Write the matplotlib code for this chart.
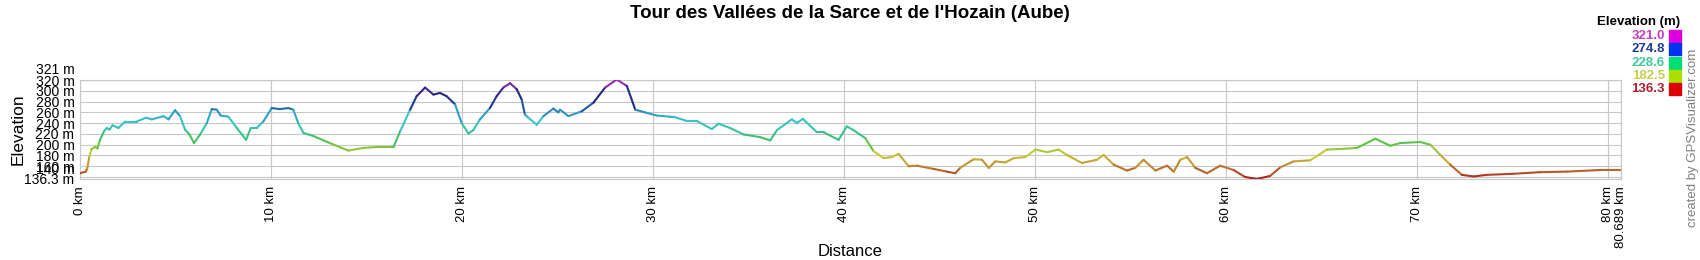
import numpy as np
import matplotlib
matplotlib.use("Agg")
import matplotlib.pyplot as plt
from matplotlib.collections import LineCollection
from matplotlib.colors import LinearSegmentedColormap, Normalize
from matplotlib.transforms import ScaledTranslation

# Profile: distance (km) and elevation (m)
dist_km = [0.0, 0.30, 0.38, 0.49, 0.61, 0.79, 0.91, 1.05, 1.26, 1.40, 1.54, 1.71, 2.01, 2.36,
           2.97, 3.46, 3.76, 4.37, 4.63, 4.98, 5.24, 5.50, 5.73, 5.97, 6.29, 6.64, 6.90, 7.16,
           7.37, 7.77, 8.21, 8.70, 8.94, 9.25, 9.60, 10.04, 10.47, 10.91, 11.17, 11.43, 11.70,
           12.22, 13.09, 14.05, 14.84, 15.71, 16.42, 16.77, 17.29, 17.63, 18.07, 18.51, 18.85,
           19.20, 19.64, 19.99, 20.34, 20.60, 20.95, 21.47, 21.82, 22.17, 22.52, 22.87, 23.13,
           23.30, 23.48, 23.92, 24.27, 24.79, 25.05, 25.14, 25.58, 26.28, 26.89, 27.50, 28.11,
           28.64, 29.08, 29.69, 30.21, 30.91, 31.08, 31.78, 32.30, 33.09, 33.44, 34.05, 34.75,
           35.62, 36.15, 36.50, 37.28, 37.54, 37.86, 38.59, 38.94, 39.73, 40.16, 40.51, 41.13,
           41.56, 42.09, 42.52, 42.87, 43.40, 43.83, 44.70, 45.40, 45.84, 46.10, 46.80, 47.24,
           47.59, 47.94, 48.46, 48.90, 49.51, 50.04, 50.65, 51.25, 51.68, 52.47, 53.26, 53.61,
           54.13, 54.83, 55.27, 55.70, 56.32, 56.93, 57.28, 57.63, 57.98, 58.41, 59.02, 59.71,
           60.41, 61.02, 61.64, 62.33, 62.86, 63.56, 64.43, 65.30, 66.00, 66.88, 67.84, 68.62,
           69.14, 70.19, 70.72, 71.24, 71.76, 72.37, 72.99, 73.68, 75.08, 76.48, 77.87, 79.62,
           80.689]
elev_m = [147, 150, 156, 178, 192, 196, 193, 209, 225, 231, 228, 236, 231, 243,
          243, 250, 247, 253, 247, 264, 253, 228, 219, 203, 219, 240, 266, 265,
          254, 252, 231, 209, 231, 231, 243, 268, 266, 268, 265, 240, 222,
          216, 203, 189, 194, 196, 196, 225, 265, 290, 306, 293, 296,
          290, 275, 240, 221, 227, 247, 268, 290, 306, 314, 303, 284,
          256, 250, 237, 253, 267, 260, 265, 253, 262, 278, 306, 321,
          309, 265, 259, 254, 252, 252, 244, 244, 229, 239, 231, 219,
          214, 208, 227, 247, 240, 248, 223, 223, 209, 234, 227, 212,
          188, 175, 177, 183, 160, 161, 155, 150, 147, 157, 173, 172,
          157, 169, 167, 175, 177, 191, 186, 191, 181, 166, 172, 181,
          163, 152, 157, 172, 152, 161, 150, 172, 177, 157, 147, 161,
          153, 140, 136.3, 142, 158, 169, 171, 191, 192, 194, 211, 198,
          203, 205, 200, 181, 163, 144, 141, 144, 146, 149, 150, 153,
          153]

ytick_vals = [136.3, 140, 160, 180, 200, 220, 240, 260, 280, 300, 320, 321]
ytick_labels = ["136.3 m", "140 m", "160 m", "180 m", "200 m", "220 m", "240 m",
                "260 m", "280 m", "300 m", "320 m", "321 m"]
xtick_vals = [0, 10, 20, 30, 40, 50, 60, 70, 80, 80.689]
xtick_labels = ["0 km", "10 km", "20 km", "30 km", "40 km", "50 km", "60 km",
                "70 km", "80 km", "80.689 km"]

legend_vals = ["321.0", "274.8", "228.6", "182.5", "136.3"]
legend_text_colors = ["#C63CC6", "#1F3C99", "#3CCB98", "#C4CF4E", "#AA1E2E"]
legend_box_colors = ["#DD00DD", "#0033EE", "#00DD77", "#AADD00", "#DD0000"]

# colour ramp used along the track
ramp = LinearSegmentedColormap.from_list("elev", [
    (0.00, "#A81C1C"), (0.07, "#B8562A"), (0.16, "#C29A30"), (0.25, "#CCCC3A"),
    (0.34, "#6CC43A"), (0.42, "#3CC070"), (0.50, "#36C4A8"), (0.59, "#38C4CC"),
    (0.68, "#2C8CC4"), (0.75, "#1E3C96"), (0.86, "#262480"), (0.93, "#6A2AA8"),
    (1.00, "#C030C8")])
norm = Normalize(vmin=136.3, vmax=321)

font = "Liberation Sans"
plt.rcParams['font.family'] = [font, 'DejaVu Sans']

fig = plt.figure(figsize=(17, 2.6), dpi=100)
ax = fig.add_axes([80 / 1700, 81 / 260, 1540.7 / 1700, 99.5 / 260])

x = np.array(dist_km)
y = np.array(elev_m)
pts = np.column_stack([x, y]).reshape(-1, 1, 2)
segs = np.concatenate([pts[:-1], pts[1:]], axis=1)
mids = (y[:-1] + y[1:]) / 2
lc = LineCollection(segs, colors=ramp(norm(mids)), linewidths=1.5,
                    capstyle='round', joinstyle='round', zorder=3)
ax.add_collection(lc)

ax.set_xlim(0, 80.689)
ax.set_ylim(136.3, 321)
ax.set_yticks(ytick_vals)
ax.set_yticklabels(ytick_labels, fontsize=10)
ax.set_xticks(xtick_vals)
ax.set_xticklabels(xtick_labels, fontsize=9.5, rotation=90, va='top')
ax.tick_params(length=0)
ax.tick_params(axis='y', pad=4)
ax.tick_params(axis='x', pad=5)
ax.grid(True, color='#C8C8C8', linewidth=0.8)
for s in ax.spines.values():
    s.set_color('#C8C8C8')
    s.set_linewidth(0.8)

# push crowded labels upward like the original
shift_up = {321: 11, 140: 9}
for lab, val in zip(ax.get_yticklabels(), ytick_vals):
    if val in shift_up:
        lab.set_transform(lab.get_transform()
                          + ScaledTranslation(0, shift_up[val] / 100, fig.dpi_scale_trans))

ax.set_ylabel("Elevation", fontsize=12.5)
ax.yaxis.set_label_coords(-0.035, 0.5)
fig.text(0.5, 9 / 260, "Distance", fontsize=12, ha='center', va='center')

fig.text(850 / 1700, 1 - 14 / 260, "Tour des Vallées de la Sarce et de l'Hozain (Aube)",
         fontsize=13.5, fontweight='bold', ha='center', va='center')

# legend
fig.text(1680 / 1700, 1 - 22 / 260, "Elevation (m)", fontsize=9.5, fontweight='bold',
         ha='right', va='center')
for i, (v, tc, bc) in enumerate(zip(legend_vals, legend_text_colors, legend_box_colors)):
    yy = 1 - (36 + 13.3 * i) / 260
    fig.text(1665 / 1700, yy, v, fontsize=9.5, fontweight='bold', color=tc,
             ha='right', va='center')
    fig.patches.append(plt.Rectangle((1669 / 1700, yy - 6 / 260), 12 / 1700, 12 / 260,
                                     transform=fig.transFigure, color=bc, figure=fig))

fig.text(1693 / 1700, 1 - 138 / 260, "created by GPSVisualizer.com", fontsize=9.5,
         color='#808080', rotation=90, ha='center', va='center')

fig.savefig("out.png", dpi=100)
